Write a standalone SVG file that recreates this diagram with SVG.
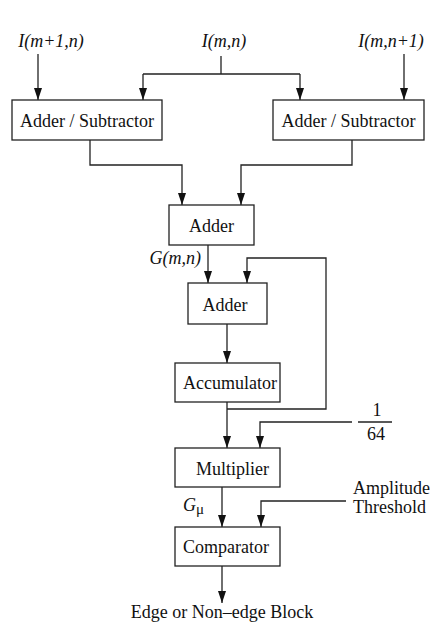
<svg xmlns="http://www.w3.org/2000/svg" width="437" height="627" viewBox="0 0 437 627">
<style>
text{font-family:"Liberation Serif","Times New Roman",serif;font-size:18px;fill:#111}
.it{font-style:italic}
.box{fill:#fff;stroke:#222;stroke-width:1.3}
.ln{fill:none;stroke:#222;stroke-width:1.3}
.ar{marker-end:url(#ah)}
</style>
<defs>
<marker id="ah" markerUnits="userSpaceOnUse" markerWidth="12" markerHeight="8" viewBox="0 0 12 8" refX="12" refY="4" orient="auto">
<path d="M0,0 L12,4 L0,8 Z" fill="#111"/>
</marker>
</defs>
<rect width="437" height="627" fill="#fff"/>
<g id="connectors">
<path class="ln ar" d="M38,54 V100"/>
<path class="ln" d="M221,56 V74 M143,74 H300"/>
<path class="ln ar" d="M143,74 V100"/>
<path class="ln ar" d="M300,74 V100"/>
<path class="ln ar" d="M404,54 V100"/>
<path class="ln ar" d="M90,140 V165 H182 V205"/>
<path class="ln ar" d="M352,140 V165 H241 V205"/>
<path class="ln ar" d="M208,245 V283"/>
<path class="ln ar" d="M227,409 H326 V258 H247 V283"/>
<path class="ln ar" d="M227,324 V363"/>
<path class="ln ar" d="M227,402 V448"/>
<path class="ln ar" d="M352,422 H260 V448"/>
<path class="ln ar" d="M222,487 V527"/>
<path class="ln ar" d="M346,501 H261 V527"/>
<path class="ln ar" d="M222,566 V603"/>
</g>
<g id="in_m1n"><text class="it" x="51" y="47" text-anchor="middle">I(m+1,n)</text></g>
<g id="in_mn"><text class="it" x="224" y="47" text-anchor="middle">I(m,n)</text></g>
<g id="in_mn1"><text class="it" x="391" y="47" text-anchor="middle">I(m,n+1)</text></g>
<g id="addsub1"><rect class="box" x="12" y="100" width="150" height="40"/><text x="87" y="127" text-anchor="middle">Adder / Subtractor</text></g>
<g id="addsub2"><rect class="box" x="273" y="100" width="151" height="40"/><text x="348.5" y="127" text-anchor="middle">Adder / Subtractor</text></g>
<g id="adder1"><rect class="box" x="169" y="205" width="85" height="40"/><text x="211.5" y="232" text-anchor="middle">Adder</text></g>
<g id="gmn"><text class="it" x="201" y="264" text-anchor="end">G(m,n)</text></g>
<g id="adder2"><rect class="box" x="188" y="283" width="79" height="41"/><text x="225" y="311" text-anchor="middle">Adder</text></g>
<g id="accumulator"><rect class="box" x="175" y="363" width="105" height="39"/><text x="230" y="389" text-anchor="middle">Accumulator</text></g>
<g id="frac"><text x="377" y="416" text-anchor="middle">1</text><path class="ln" d="M358,422 H392"/><text x="376" y="440" text-anchor="middle">64</text></g>
<g id="multiplier"><rect class="box" x="175" y="448" width="105" height="39"/><text x="232.5" y="475" text-anchor="middle">Multiplier</text></g>
<g id="gmu"><text x="183" y="511"><tspan class="it">G</tspan><tspan font-size="15" dy="3">μ</tspan></text></g>
<g id="threshold"><text x="353" y="494">Amplitude</text><text x="353" y="513">Threshold</text></g>
<g id="comparator"><rect class="box" x="175" y="527" width="105" height="39"/><text x="226" y="553" text-anchor="middle">Comparator</text></g>
<g id="output"><text x="222" y="618" text-anchor="middle">Edge or Non–edge Block</text></g>
</svg>
